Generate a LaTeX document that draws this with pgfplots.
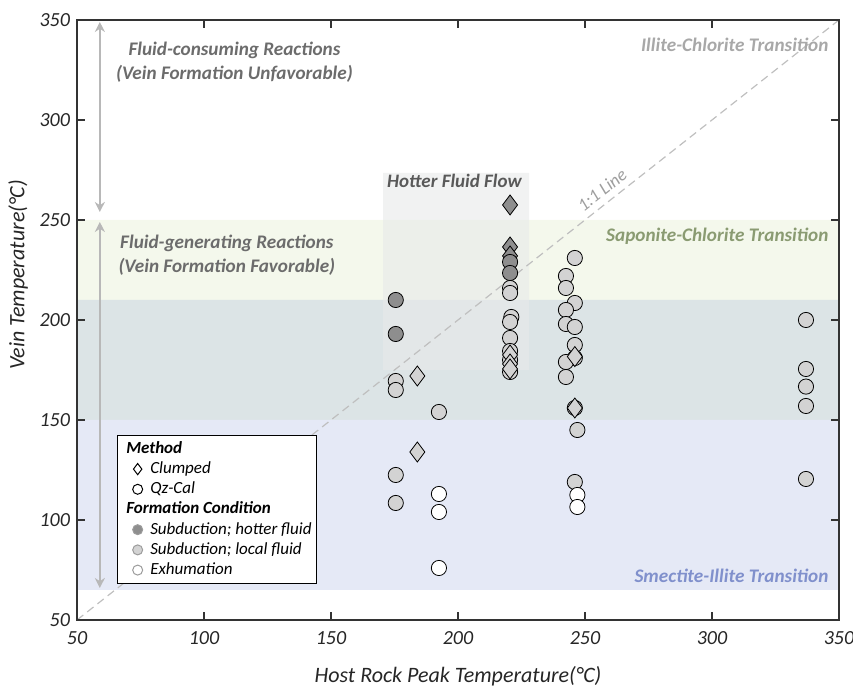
\documentclass[border=0pt]{standalone}
\usepackage{pgfplots}
\pgfplotsset{compat=1.18}
\usepackage{fontspec}
\setmainfont{Carlito}
\usetikzlibrary{arrows.meta}
\definecolor{edge}{HTML}{8A7E7E}
\definecolor{darkfill}{HTML}{8E8E8E}
\definecolor{lightfill}{HTML}{D3D3D3}
\definecolor{bandgreen}{HTML}{F4F8EC}
\definecolor{bandgray}{HTML}{DCE4E6}
\definecolor{bandblue}{HTML}{E5E9F6}
\definecolor{boxfill}{HTML}{E8EAEA}
\definecolor{annot}{HTML}{6C6C6C}
\definecolor{sapo}{HTML}{8A9B72}
\definecolor{smect}{HTML}{8090CC}
\definecolor{illite}{HTML}{A8A8A8}
\definecolor{arrowgray}{HTML}{B8B8B8}
\definecolor{lgedge}{HTML}{9C9C9C}
\pgfplotsset{
 mk/.style={only marks, forget plot, mark options={draw=edge, line width=0.6pt}},
 hotc/.style={mk, mark=*, mark size=3.8pt, mark options={fill=darkfill}},
 hotd/.style={mk, mark=diamond*, mark size=5pt, mark options={fill=darkfill}},
 locc/.style={mk, mark=*, mark size=3.8pt, mark options={fill=lightfill}},
 locd/.style={mk, mark=diamond*, mark size=5pt, mark options={fill=lightfill}},
 exc/.style={mk, mark=*, mark size=3.8pt, mark options={fill=white}},
}
\begin{document}
\begin{tikzpicture}
\useasboundingbox (-38.5pt,-34pt) rectangle (388pt,310pt);
\begin{axis}[
 at={(0,0)}, anchor=south west,
 width=381pt, height=300pt, scale only axis,
 xmin=50, xmax=350, ymin=50, ymax=350,
 xtick={50,100,...,350}, ytick={50,100,...,350},
 xticklabel={\itshape\pgfmathprintnumber{\tick}},
 yticklabel={\itshape\pgfmathprintnumber{\tick}},
 tick align=inside, tick pos=both, major tick length=4pt,
 axis line style={draw=black!80, line width=0.7pt},
 tick style={draw=black!80, line width=0.7pt},
 ticklabel style={font=\itshape\fontsize{10}{12}\selectfont, text=black!85},
 xticklabel style={yshift=-2pt},
 /pgf/number format/assume math mode=true,
 xlabel={Host Rock Peak Temperature(°C)},
 ylabel={Vein Temperature(°C)},
 label style={font=\itshape\fontsize{11}{13}\selectfont, text=black!85},
 xlabel style={at={(axis description cs:0.5,-0.0933)}, anchor=center},
 ylabel style={at={(axis description cs:-0.0774,0.575)}, anchor=center},
 axis on top,
 legend style={at={(axis description cs:0.0525,0.308)}, anchor=north west,
   draw=black, line width=0.6pt, fill=white, inner sep=1.5pt, row sep=0pt, column sep=3pt,
   font=\itshape\fontsize{8.5}{10}\selectfont,
   nodes={inner sep=0.8pt, text height=6.5pt, text depth=2pt}},
 legend cell align=left,
]
% bands
\addplot[forget plot, fill=bandgreen, draw=none] coordinates {(50,210) (350,210) (350,250) (50,250) (50,210)};
\addplot[forget plot, fill=bandgray, draw=none] coordinates {(50,150) (350,150) (350,210) (50,210) (50,150)};
\addplot[forget plot, fill=bandblue, draw=none] coordinates {(50,65) (350,65) (350,150) (50,150) (50,65)};
% hotter fluid box
\addplot[forget plot, fill=boxfill, fill opacity=0.6, draw=none] coordinates {(170.5,175) (228,175) (228,273.5) (170.5,273.5) (170.5,175)};
% 1:1 line
\addplot[forget plot, draw=black!25, line width=0.6pt, dash pattern=on 4pt off 2.5pt] coordinates {(50,50) (350,350)};
% arrows
\addplot[forget plot, draw=arrowgray, line width=0.9pt, {Stealth[length=5pt,width=5pt]}-{Stealth[length=5pt,width=5pt]}] coordinates {(59,349) (59,254)};
\addplot[forget plot, draw=arrowgray, line width=0.9pt, {Stealth[length=5pt,width=5pt]}-{Stealth[length=5pt,width=5pt]}] coordinates {(59,249) (59,66)};
% data
\addplot[locc] coordinates {(175.5,169.5) (175.5,165) (175.5,122.5) (175.5,108.5) (192.5,154)
 (220.5,216) (220.5,213.5) (221,201.5) (220.5,199) (220.5,191) (220.5,184.5) (220.5,180) (220.5,174)
 (246,231) (242.5,222) (242.5,216) (246,208.5) (242.5,205) (242.5,198) (246,196.5) (246,187.5)
 (246,181) (242.5,179) (242.5,171.5) (246,156) (247,145) (246,119)
 (337,200) (337,175.5) (337,166.7) (337,157) (337,120.5)};
\addplot[locd] coordinates {(184,172) (184,134) (220.5,182.5) (220.5,178) (220.5,175.5) (246,181.7) (246,156)};
\addplot[exc] coordinates {(192.5,113) (192.5,104) (192.5,76) (247,112.5) (247,106.5)};
\addplot[hotd] coordinates {(220.5,257.5) (220.5,236.5) (220.5,232)};
\addplot[hotc] coordinates {(175.5,210) (175.5,193) (220.5,229) (220.5,223.5)};
% texts
\node[font=\bfseries\itshape\fontsize{9.6}{12}\selectfont, text=annot, align=center] at (axis cs:112,329) {Fluid-consuming Reactions\\(Vein Formation Unfavorable)};
\node[font=\bfseries\itshape\fontsize{9.6}{12}\selectfont, text=annot, align=center] at (axis cs:109,232.5) {Fluid-generating Reactions\\(Vein Formation Favorable)};
\node[font=\bfseries\itshape\fontsize{9.5}{11}\selectfont, text=black!65] at (axis cs:198.6,269.5) {Hotter Fluid Flow};
\node[font=\bfseries\itshape\fontsize{9.6}{12}\selectfont, text=illite, anchor=east, inner sep=0pt] at (axis cs:346,337.5) {Illite-Chlorite Transition};
\node[font=\bfseries\itshape\fontsize{9.6}{12}\selectfont, text=sapo, anchor=east, inner sep=0pt] at (axis cs:346,241.7) {Saponite-Chlorite Transition};
\node[font=\bfseries\itshape\fontsize{9.6}{12}\selectfont, text=smect, anchor=east, inner sep=0pt] at (axis cs:346,72) {Smectite-Illite Transition};
\node[font=\itshape\fontsize{9}{10}\selectfont, text=black!38, rotate=38.2, inner sep=0pt] at (axis cs:256.7,265) {1:1 Line};
% legend
\addlegendimage{empty legend}
\addlegendentry{\hspace*{-12pt}\bfseries Method}
\addlegendimage{only marks, mark=diamond, mark size=2.8pt, mark options={draw=black, line width=0.5pt}}
\addlegendentry{Clumped}
\addlegendimage{only marks, mark=*, mark size=2.5pt, mark options={draw=black, fill=white, line width=0.5pt}}
\addlegendentry{Qz-Cal}
\addlegendimage{empty legend}
\addlegendentry{\hspace*{-12pt}\bfseries Formation Condition}
\addlegendimage{only marks, mark=*, mark size=2.5pt, mark options={draw=lgedge, fill=darkfill, line width=0.5pt}}
\addlegendentry{Subduction; hotter fluid}
\addlegendimage{only marks, mark=*, mark size=2.5pt, mark options={draw=lgedge, fill=lightfill, line width=0.5pt}}
\addlegendentry{Subduction; local fluid}
\addlegendimage{only marks, mark=*, mark size=2.5pt, mark options={draw=lgedge, fill=white, line width=0.5pt}}
\addlegendentry{Exhumation}
\end{axis}
\end{tikzpicture}
\end{document}
